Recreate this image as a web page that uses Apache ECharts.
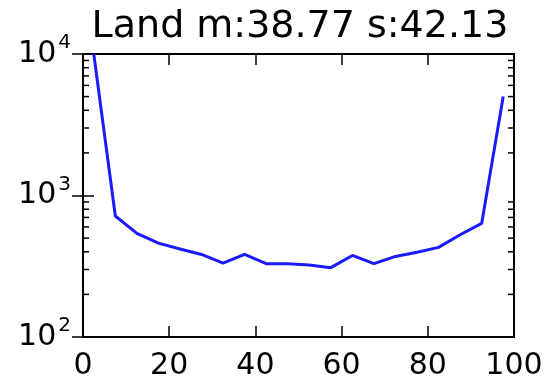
<!DOCTYPE html>
<html>
<head>
<meta charset="utf-8">
<script src="https://cdn.jsdelivr.net/npm/echarts@6/dist/echarts.min.js"></script>
<style>
  html, body { margin: 0; padding: 0; background: #fff; }
  #chart { width: 546px; height: 381px; }
</style>
</head>
<body>
<div id="chart"></div>
<script>
const binCenters = [2.5, 7.5, 12.5, 17.5, 22.5, 27.5, 32.5, 37.5, 42.5, 47.5,
  52.5, 57.5, 62.5, 67.5, 72.5, 77.5, 82.5, 87.5, 92.5, 97.5];
const counts = [10000, 716, 540, 461, 419, 383, 333, 383, 330, 330,
  323, 309, 377, 330, 371, 397, 430, 528, 635, 5000];
const xTicks = [0, 20, 40, 60, 80, 100];
const yMinor = [200, 300, 400, 500, 600, 700, 800, 900,
  2000, 3000, 4000, 5000, 6000, 7000, 8000, 9000];
const titleText = 'Land m:38.77 s:42.13';

const font = 'DejaVu Sans';
const chart = echarts.init(document.getElementById('chart'));

function expLabel(value) {
  const exp = Math.round(Math.log10(value));
  return '{b|10}{s|' + exp + '}';
}

const yLabelRich = {
  b: { fontFamily: font, fontSize: 30, color: '#000', lineHeight: 42 },
  s: { fontFamily: font, fontSize: 20, color: '#000', verticalAlign: 'top', lineHeight: 21, padding: [0, 0, 0, 2] },
};

chart.setOption({
  animation: false,
  title: {
    text: titleText,
    left: 295,
    textAlign: 'center',
    top: 3,
    textStyle: { fontFamily: font, fontSize: 38, fontWeight: 'normal', color: '#000' },
  },
  grid: {
    left: 83,
    right: 32,
    top: 54,
    bottom: 40,
    show: true,
    borderColor: '#000',
    borderWidth: 2,
  },
  xAxis: [
    {
      type: 'value',
      min: 0,
      max: 100,
      interval: 20,
      axisLine: { show: true, lineStyle: { color: '#000', width: 2 } },
      axisTick: { show: true, inside: true, length: 11, lineStyle: { color: '#000', width: 1.5 } },
      axisLabel: {
        fontFamily: font, fontSize: 30, color: '#000', margin: 14,
        customValues: xTicks,
      },
      splitLine: { show: false },
    },
    {
      type: 'value',
      position: 'top',
      min: 0,
      max: 100,
      interval: 20,
      axisLine: { show: true, lineStyle: { color: '#000', width: 2 } },
      axisTick: { show: true, inside: true, length: 11, lineStyle: { color: '#000', width: 1.5 } },
      axisLabel: { show: false },
      splitLine: { show: false },
    },
  ],
  yAxis: [
    {
      type: 'log',
      logBase: 10,
      min: 100,
      max: 10000,
      axisLine: { show: true, lineStyle: { color: '#000', width: 2 } },
      axisTick: { show: true, inside: true, length: 11, lineStyle: { color: '#000', width: 1.5 } },
      axisLabel: {
        margin: 12,
        formatter: expLabel,
        rich: yLabelRich,
      },
      splitLine: { show: false },
    },
    {
      type: 'log',
      logBase: 10,
      position: 'right',
      min: 100,
      max: 10000,
      axisLine: { show: true, lineStyle: { color: '#000', width: 2 } },
      axisTick: { show: true, inside: true, length: 11, lineStyle: { color: '#000', width: 1.5 } },
      axisLabel: { show: false },
      splitLine: { show: false },
    },
  ],
  series: [
    {
      type: 'line',
      data: binCenters.map((x, i) => [x, counts[i]]),
      symbol: 'none',
      clip: true,
      lineStyle: { color: '#1a1aff', width: 3 },
    },
    {
      // minor log ticks on both vertical spines
      type: 'custom',
      silent: true,
      clip: false,
      data: yMinor.map((v) => [0, v]),
      renderItem(params, api) {
        const left = api.coord([0, api.value(1)]);
        const right = api.coord([100, api.value(1)]);
        const style = { stroke: '#000', lineWidth: 1.5 };
        return {
          type: 'group',
          children: [
            { type: 'line', shape: { x1: left[0], y1: left[1], x2: left[0] + 6, y2: left[1] }, style },
            { type: 'line', shape: { x1: right[0] - 6, y1: right[1], x2: right[0], y2: right[1] }, style },
          ],
        };
      },
    },
  ],
});
</script>
</body>
</html>
